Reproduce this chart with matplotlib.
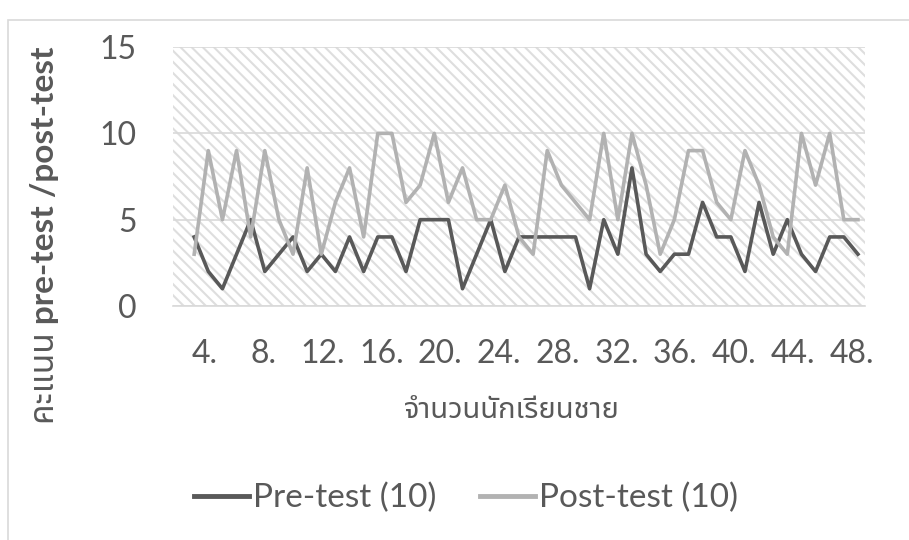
import numpy as np
import matplotlib
matplotlib.use('Agg')
import matplotlib.pyplot as plt
from matplotlib import font_manager
from matplotlib.ft2font import FT2Font
from matplotlib.patches import Rectangle
from matplotlib.lines import Line2D

# ---------------- data ----------------
pre_test = [4, 2, 1, 3, 5, 2, 3, 4, 2, 3, 2, 4, 2, 4, 4, 2, 5, 5, 5, 1, 3, 5, 2, 4,
            4, 4, 4, 4, 1, 5, 3, 8, 3, 2, 3, 3, 6, 4, 4, 2, 6, 3, 5, 3, 2, 4, 4, 3]
post_test = [3, 9, 5, 9, 4, 9, 5, 3, 8, 3, 6, 8, 4, 10, 10, 6, 7, 10, 6, 8, 5, 5, 7, 4,
             3, 9, 7, 6, 5, 10, 5, 10, 7, 3, 5, 9, 9, 6, 5, 9, 7, 4, 3, 10, 7, 10, 5, 5]
x_labels = ['4.', '8.', '12.', '16.', '20.', '24.', '28.', '32.', '36.', '40.', '44.', '48.']
y_ticks = [0, 5, 10, 15]
series_names = ['Pre-test (10)', 'Post-test (10)']
x_title = 'จำนวนนักเรียนชาย'
y_title = 'คะแนน pre-test /post-test'


# ---------------- fonts ----------------
def find_thai_font():
    preferred = ['Noto Sans Thai', 'Noto Sans Thai UI', 'Noto Serif Thai', 'Loma',
                 'Garuda', 'Norasi', 'Sarabun', 'Tahoma', 'Leelawadee UI', 'Kinnari']
    found = {}
    for f in font_manager.fontManager.ttflist:
        try:
            ft = FT2Font(f.fname)
            if ft.get_char_index(0x0E08) and ft.get_char_index(0x0E19):
                found.setdefault(f.name, f.fname)
        except Exception:
            pass
    for p in preferred:
        if p in found:
            return p
    return next(iter(found), None)


thai = find_thai_font()
base = ['Lato', 'DejaVu Sans']
mixed = (['Lato', thai, 'DejaVu Sans'] if thai else base)
thai_first = ([thai, 'Lato', 'DejaVu Sans'] if thai else base)
plt.rcParams['font.family'] = base
plt.rcParams['hatch.linewidth'] = 1.5

text_color = '#595959'
grid_color = '#D9D9D9'

fig = plt.figure(figsize=(9.09, 5.4), dpi=100)
ax = fig.add_axes([173 / 909, 1 - 306 / 540, 692 / 909, 259 / 540])

# hatched plot-area background
ax.add_patch(Rectangle((0, 0), 1, 1, transform=ax.transAxes, facecolor='white',
                       edgecolor='#DEDEDE', hatch='\\\\\\', lw=0, zorder=0))

x = np.arange(1, len(pre_test) + 1)
ax.plot(x, pre_test, color='#595959', lw=2.6, zorder=3, label=series_names[0])
ax.plot(x, post_test, color='#B2B2B2', lw=2.6, zorder=4, label=series_names[1])

ax.set_xlim(-0.5, len(pre_test) + 0.5)
ax.set_ylim(0, 15)
ax.set_yticks(y_ticks)
ax.set_yticklabels([str(v) for v in y_ticks])
ax.yaxis.grid(True, color=grid_color, lw=1.2, zorder=1)
ax.set_axisbelow(True)

label_pos = np.linspace(1.77, 47.55, len(x_labels))
ax.set_xticks(label_pos)
ax.set_xticklabels(x_labels)

for s in ['top', 'right', 'left']:
    ax.spines[s].set_visible(False)
ax.spines['bottom'].set_color(grid_color)
ax.spines['bottom'].set_linewidth(1.2)

ax.tick_params(axis='both', length=0, labelsize=23, colors=text_color)
ax.tick_params(axis='y', pad=26)
ax.tick_params(axis='x', pad=24)

fig.text(512 / 909, 1 - 410 / 540, x_title, ha='center', va='center',
         fontsize=21, fontweight='bold', color=text_color, family=thai_first)
fig.text(45 / 909, 1 - 235 / 540, y_title, ha='center', va='center', rotation=90,
         fontsize=24, fontweight='bold', color=text_color, family=mixed)

handles = [Line2D([], [], color='#595959', lw=3.5),
           Line2D([], [], color='#B2B2B2', lw=3.5)]
fig.legend(handles, series_names, loc='center', bbox_to_anchor=(466 / 909, 1 - 498 / 540),
           ncol=2, frameon=False, fontsize=24, handlelength=1.65, handletextpad=0.12,
           columnspacing=1.3, labelcolor=text_color)

# chart-area outline (left and top visible)
fig.add_artist(Rectangle((8 / 909, -0.2), 2, 1.2 - 20 / 540, transform=fig.transFigure,
                         fill=False, edgecolor=grid_color, lw=1.2))

fig.savefig('out.png', dpi=100)
